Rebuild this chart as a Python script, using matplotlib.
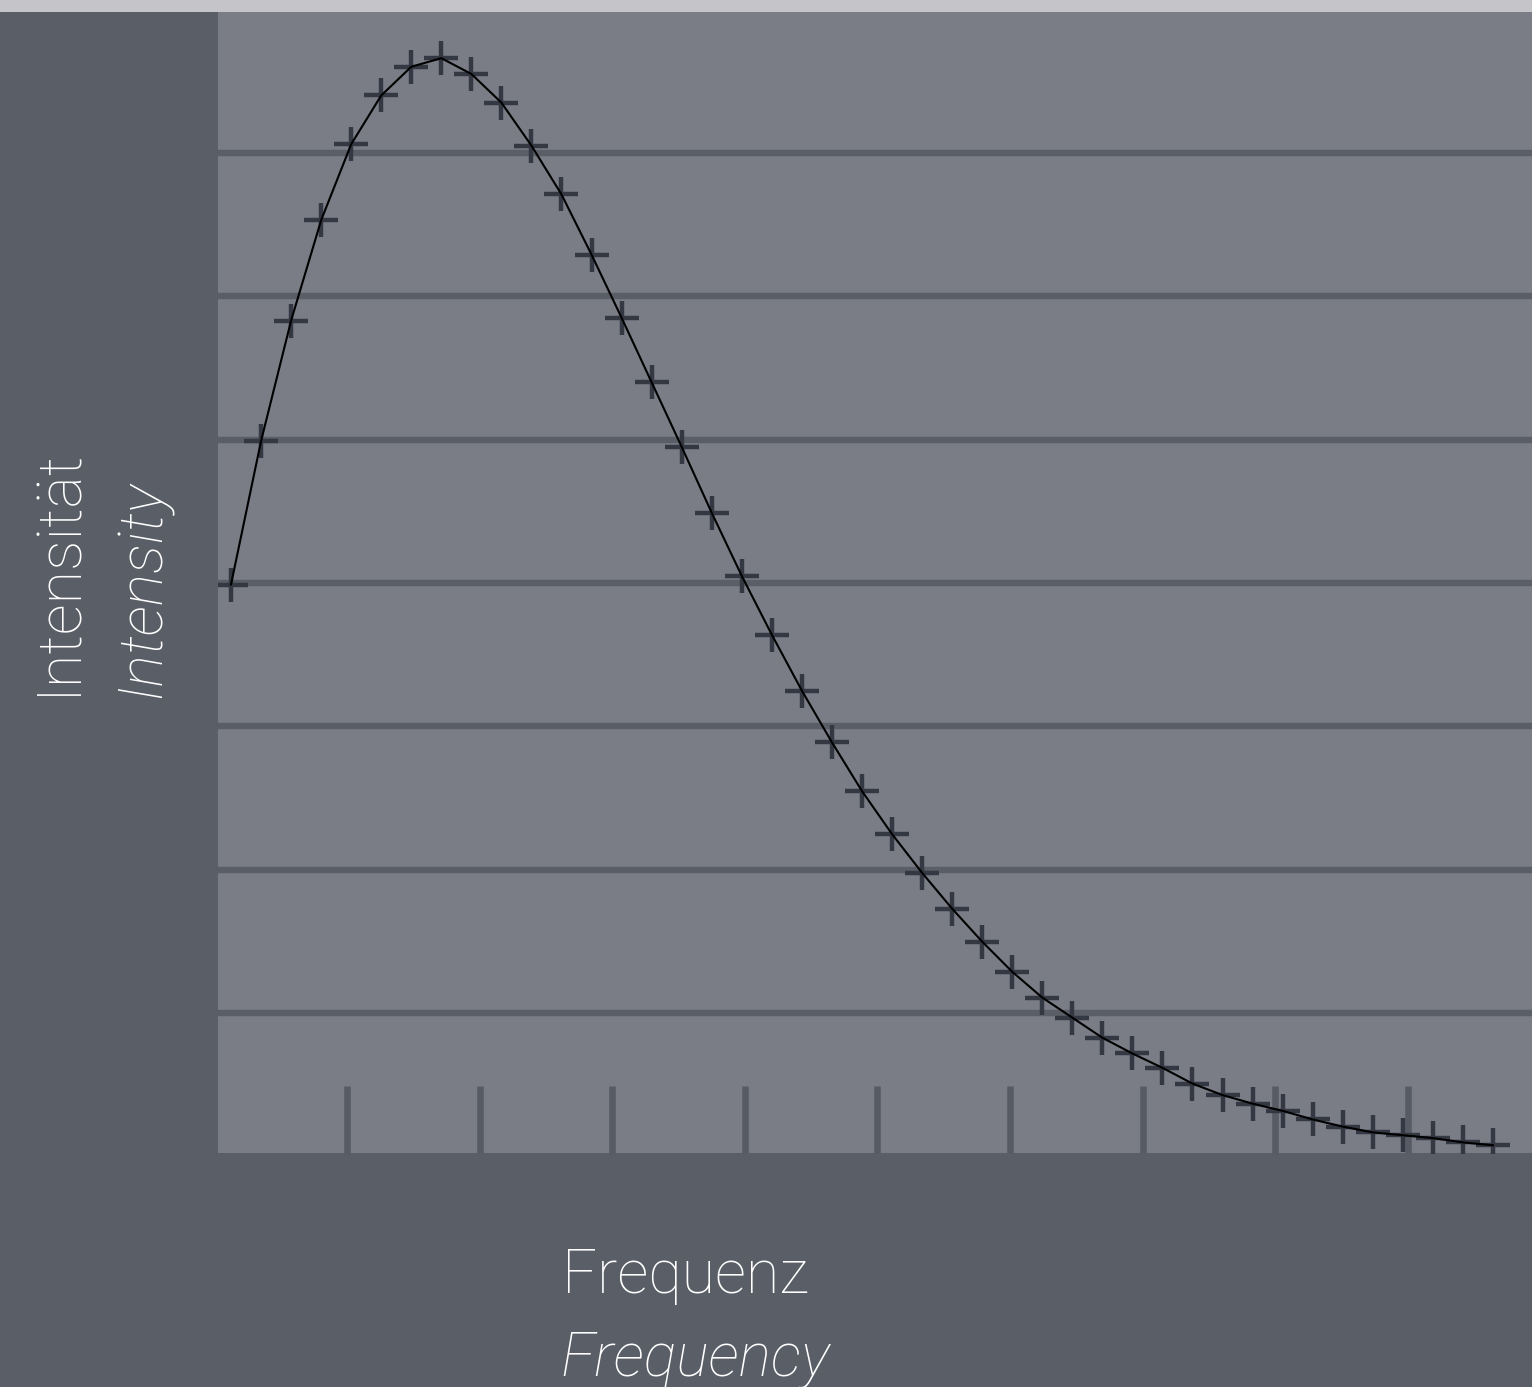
import matplotlib
matplotlib.use("Agg")
import matplotlib.pyplot as plt
from matplotlib.patches import Rectangle
import numpy as np

# data (arbitrary units)
freq = 0.125 + 0.2266 * np.arange(43)
intensity = [3.99, 4.99, 5.83, 6.53, 7.06, 7.40, 7.60, 7.66, 7.55, 7.35,
             7.05, 6.71, 6.29, 5.85, 5.40, 4.95, 4.49, 4.05, 3.64, 3.25,
             2.89, 2.55, 2.25, 1.98, 1.73, 1.50, 1.29, 1.11, 0.97, 0.83,
             0.72, 0.62, 0.51, 0.43, 0.37, 0.32, 0.26, 0.21, 0.17, 0.15,
             0.13, 0.10, 0.08]
xticks = [1, 2, 3, 4, 5, 6, 7, 8, 9]
ygrid = [1, 2, 3, 4, 5, 6, 7]

W, H = 1532, 1387
bg = '#5a5e67'
panel = '#7a7d86'
mark = '#343843'

fig = plt.figure(figsize=(W / 100, H / 100), dpi=100, facecolor=bg)
fig.patches.append(Rectangle((0, 1 - 12 / H), 1, 12 / H, transform=fig.transFigure,
                             facecolor='#c5c4c9', edgecolor='none'))

ax = fig.add_axes([218 / W, (H - 1153) / H, (W - 218) / W, (1153 - 12) / H])
ax.set_facecolor(panel)
for s in ax.spines.values():
    s.set_visible(False)

ax.set_xlim(0.027, 9.937)
ax.set_ylim(0.026, 7.982)
ax.set_axisbelow(True)

ax.set_yticks(ygrid)
ax.yaxis.grid(True, color=bg, linewidth=4.6)
ax.tick_params(axis='y', length=0, labelleft=False)

ax.set_xticks(xticks)
ax.tick_params(axis='x', direction='in', length=48.5, width=4.7, color='#575b64',
               labelbottom=False)

ax.plot(freq, intensity, linestyle='none', marker='+', markersize=25,
        markeredgewidth=3.2, color=mark, zorder=3)
ax.plot(freq, intensity, color='black', linewidth=1.5, zorder=4)

font = dict(family=['Roboto', 'DejaVu Sans'], fontweight='light', color='white', fontsize=44)
fig.text(562 / W, 1 - 1293 / H, 'Frequenz', ha='left', va='baseline', **font)
fig.text(560 / W, 1 - 1376 / H, 'Frequency', ha='left', va='baseline',
         fontstyle='italic', **font)
fig.text(75 / W, 1 - 695 / H, 'Intensität', rotation=90, rotation_mode='anchor',
         ha='left', va='baseline', **font)
fig.text(160 / W, 1 - 698 / H, 'Intensity', rotation=90, rotation_mode='anchor',
         ha='left', va='baseline', fontstyle='italic', **font)

fig.savefig('out.png', dpi=100, facecolor=bg)
